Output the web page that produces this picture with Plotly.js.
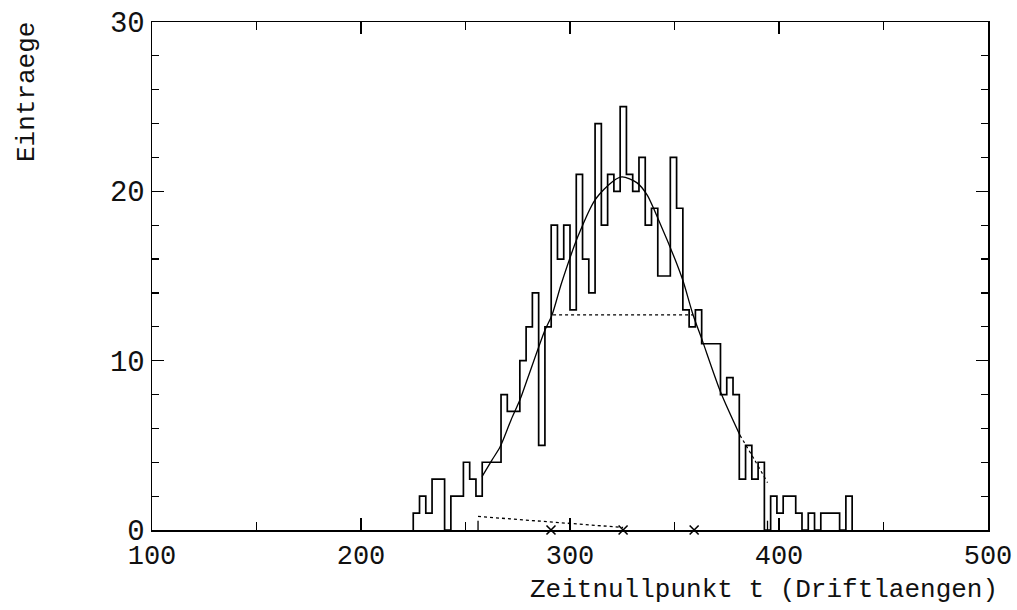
<!DOCTYPE html>
<html>
<head>
<meta charset="utf-8">
<script src="https://cdn.plot.ly/plotly-3.0.1.min.js"></script>
<style>html,body{margin:0;padding:0;background:#fff;}</style>
</head>
<body>
<div id="chart" style="width:1017px;height:610px;"></div>
<script>
// ---- data ----
const binStart = 225;
const binWidth = 3;
const counts = [1,2,1,3,3,0,2,2,4,3,2,4,4,4,8,7,7,10,12,14,5,12,18,16,18,13,21,16,14,24,18,21,20,25,21,20,22,18,19,15,15,22,19,13,12,13,11,11,11,8,9,8,3,5,3,4,0,2,1,2,2,1,0,1,0,1,1,1,0,2];

const fitX = [257.9,262.5,266.5,271.8,276.1,280.0,288.0,291.4,296.0,304.0,312.0,320.6,324.9,332.1,336.8,343.1,350.2,354.1,358.9,363.0,372.2,381.3];
const fitY = [3.15,4.1,4.9,6.5,7.7,9.05,11.8,12.7,14.6,17.4,19.5,20.6,20.85,20.5,19.8,18.1,16.0,14.7,12.7,11.3,8.1,5.6];
const fitTailX = [381.3,388.5,394.5];
const fitTailY = [5.6,4.1,2.8];

const sigmaLineX = [291.9,358.9];
const sigmaLineY = [12.7,12.7];
const bgX = [256.0,325.4];
const bgY = [0.8,0.15];
const crossX = [290.9,325.4,359.4];
const crossY = [0,0,0];
const rangeMarkX = [256.0,394.5];

const xTickVals = [100,200,300,400,500];
const xTickText = ['100','200','300','400','500'];
const yTickVals = [0,10,20,30];
const yTickText = ['0','10','20','30'];
const xTitle = 'Zeitnullpunkt t (Driftlaengen)';
const yTitle = 'Eintraege';

// ---- build step outline ----
const stepX = [binStart];
const stepY = [0];
counts.forEach((c,i)=>{ stepX.push(binStart + i*binWidth); stepY.push(c); });
stepX.push(binStart + counts.length*binWidth); stepY.push(0);

const rmX = [], rmY = [];
rangeMarkX.forEach(x=>{ rmX.push(x,x,null); rmY.push(0,0.55,null); });

const FONT = 'Liberation Mono, Courier New, monospace';
const traces = [
  {x: stepX, y: stepY, mode:'lines', line:{shape:'hv', color:'#000', width:1.7}, hoverinfo:'skip'},
  {x: fitX, y: fitY, mode:'lines', line:{shape:'spline', smoothing:0.8, color:'#000', width:1.3}},
  {x: fitTailX, y: fitTailY, mode:'lines', line:{shape:'spline', color:'#000', width:1.2, dash:'dot'}},
  {x: sigmaLineX, y: sigmaLineY, mode:'lines', line:{color:'#000', width:1.3, dash:'dot'}},
  {x: bgX, y: bgY, mode:'lines', line:{color:'#000', width:1.3, dash:'dot'}},
  {x: rmX, y: rmY, mode:'lines', line:{color:'#000', width:1.3}, cliponaxis:false},
  {x: crossX, y: crossY, mode:'markers', marker:{symbol:'x-thin', size:9, line:{color:'#000', width:1.6}}, cliponaxis:false}
];

const layout = {
  width:1017, height:610,
  margin:{l:152, r:29, t:22, b:80},
  paper_bgcolor:'#fff', plot_bgcolor:'#fff',
  showlegend:false,
  xaxis:{
    range:[100,500], tickvals:xTickVals, ticktext:xTickText,
    ticks:'inside', ticklen:12, tickwidth:1.3, tickcolor:'#000',
    minor:{dtick:50, tick0:100, ticks:'inside', ticklen:8, tickwidth:1.2, tickcolor:'#000'},
    showline:true, linecolor:'#000', linewidth:1.5, mirror:'ticks',
    showgrid:false, zeroline:false,
    tickfont:{family:FONT, size:27, color:'#111'}
  },
  yaxis:{
    range:[0,30], tickvals:yTickVals, ticktext:yTickText,
    ticks:'inside', ticklen:12, tickwidth:1.3, tickcolor:'#000',
    minor:{dtick:2, tick0:0, ticks:'inside', ticklen:7, tickwidth:1.2, tickcolor:'#000'},
    showline:true, linecolor:'#000', linewidth:1.5, mirror:'ticks',
    showgrid:false, zeroline:false,
    tickfont:{family:FONT, size:29, color:'#111'}
  },
  annotations:[
    {text:xTitle, xref:'paper', yref:'paper', x:(1000-152)/836, y:(530-590)/508,
     xanchor:'right', yanchor:'middle', showarrow:false, font:{family:FONT, size:26, color:'#111'}},
    {text:yTitle, xref:'paper', yref:'paper', x:(27-152)/836, y:(530-92)/508,
     xanchor:'center', yanchor:'middle', textangle:-90, showarrow:false, font:{family:FONT, size:26, color:'#111'}}
  ]
};

Plotly.newPlot('chart', traces, layout, {displayModeBar:false, staticPlot:true});
</script>
</body>
</html>
